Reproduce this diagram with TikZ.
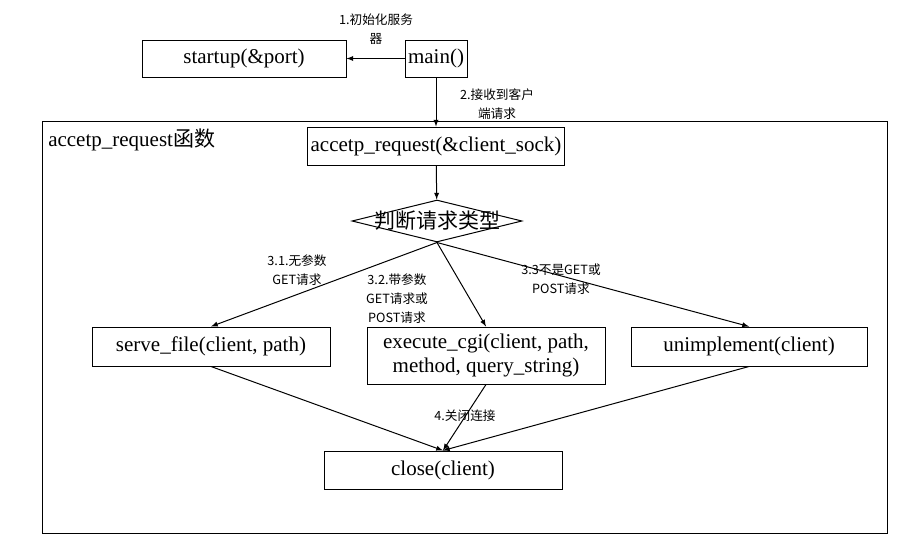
\documentclass[tikz,border=0pt]{standalone}
\usepackage{fontspec}
\setmainfont{Liberation Serif}
\newfontfamily\cjk{Noto Sans CJK SC}
\usetikzlibrary{arrows,shapes}
\tikzstyle{func}=[draw,line width=0.75pt,inner sep=0pt,font=\fontsize{15.75}{18}\selectfont,align=center]
\tikzstyle{decision}=[draw,diamond,line width=0.75pt,inner sep=0pt,minimum width=127.5pt,minimum height=31.5pt]
\tikzstyle{note}=[font=\fontsize{9.5}{14.25}\selectfont\cjk,align=center,inner sep=0pt]
\tikzstyle{flow}=[draw,line width=0.75pt,->,>=latex]

\begin{document}
\begin{tikzpicture}[x=0.75pt,y=-0.75pt]
    \useasboundingbox (0,0) rectangle (922,553);
    % The frame of the accetp_request function
    \node[draw,line width=0.75pt,minimum width=633.75pt,minimum height=309pt] (frame) at (464.5,327) {};
    \node[anchor=west,inner sep=0pt,font=\fontsize{15.75}{18}\selectfont] (framename) at (48,140) {accetp\_request{\cjk 函数}};

    % First we draw the functions
    \node[func,minimum width=153pt,minimum height=27.75pt] (startup) at (244,58.5) {startup(\&port)};
    \node[func,minimum width=46.5pt,minimum height=27.75pt] (main) at (436,58.5) {main()};
    \node[func,minimum width=192.75pt,minimum height=28.5pt] (accept) at (436,146) {accetp\_request(\&client\_sock)};
    \node[decision,label={[font=\fontsize{15.75}{18}\selectfont\cjk]center:判断请求类型}] (judge) at (437,221) {};
    \node[func,minimum width=178.5pt,minimum height=29.25pt] (serve) at (211,346.5) {serve\_file(client, path)};
    \node[func,minimum width=178.5pt,minimum height=42.75pt] (execute) at (486,355.5) {execute\_cgi(client, path,\\method, query\_string)};
    \node[func,minimum width=177pt,minimum height=29.25pt] (unimpl) at (749,346.5) {unimplement(client)};
    \node[func,minimum width=178.5pt,minimum height=28.5pt] (close) at (443,470) {close(client)};

    % Connect functions with arrows
    \foreach \source/\dest in {main/startup, main/accept, accept/judge,
        judge.south/serve.north, judge.south/execute.north, judge.south/unimpl.north,
        serve.south/close.north, execute.south/close.north, unimpl.south/close.north}
        \path[flow] (\source) -- (\dest);

    % Notes on the arrows
    \node[note] (note1) at (376,29.5) {1.初始化服务\\器};
    \node[note] (note2) at (497,104) {2.接收到客户\\端请求};
    \node[note] (note31) at (297,270) {3.1.无参数\\GET请求};
    \node[note] (note32) at (397,299) {3.2.带参数\\GET请求或\\POST请求};
    \node[note] (note33) at (561,279) {3.3不是GET或\\POST请求};
    \node[note] (note4) at (465,416) {4.关闭连接};
\end{tikzpicture}
\end{document}
